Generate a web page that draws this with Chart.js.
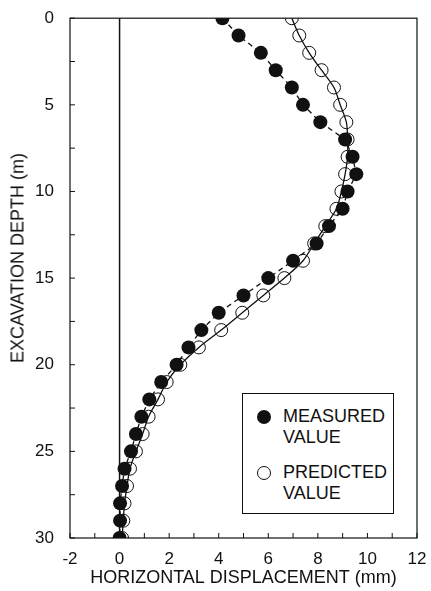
<!DOCTYPE html>
<html>
<head>
<meta charset="utf-8">
<script src="https://cdn.jsdelivr.net/npm/chart.js@4.4.0/dist/chart.umd.min.js"></script>
<style>
  html, body { margin: 0; padding: 0; background: #fff; }
  #wrap { position: relative; width: 431px; height: 591px; }
  #legend {
    position: absolute; left: 242px; top: 393px; width: 152px; height: 121px;
    box-sizing: border-box; border: 1px solid #111; background: #fff;
    font-family: "Liberation Sans", Arial, sans-serif; font-size: 18px; color: #111;
  }
  .dot { position: absolute; width: 14px; height: 14px; border-radius: 50%; box-sizing: border-box; }
  .lbl { position: absolute; left: 40px; line-height: 20.5px; }
  #ytitle {
    position: absolute; left: 18px; top: 258px; white-space: nowrap;
    transform: translate(-50%, -50%) rotate(-90deg);
    font-family: "Liberation Sans", Arial, sans-serif; font-size: 18px; color: #111;
  }
</style>
</head>
<body>
<div id="wrap">
  <canvas id="chart" width="431" height="591"></canvas>
  <div id="ytitle">EXCAVATION DEPTH (m)</div>
  <div id="legend">
    <span class="dot" style="left:14px;top:16px;background:#111;"></span>
    <div class="lbl" style="top:12px;">MEASURED<br>VALUE</div>
    <span class="dot" style="left:14px;top:72px;border:1px solid #111;"></span>
    <div class="lbl" style="top:68px;">PREDICTED<br>VALUE</div>
  </div>
</div>
<script>
// depth below ground (m)
const depths = [0, 1, 2, 3, 4, 5, 6, 7, 8, 9, 10, 11, 12, 13, 14, 15, 16, 17, 18, 19, 20,
  21, 22, 23, 24, 25, 26, 27, 28, 29, 30];
// horizontal displacement (mm)
const measured = [4.15, 4.8, 5.7, 6.3, 6.95, 7.4, 8.1, 9.1, 9.4, 9.55, 9.2, 9.0, 8.45, 7.95, 7.0,
  6.0, 5.0, 4.0, 3.3, 2.78, 2.3, 1.68, 1.2, 0.88, 0.66, 0.46, 0.2, 0.1, 0.02, 0.02, 0.0];
const predicted = [6.95, 7.25, 7.65, 8.15, 8.65, 8.9, 9.15, 9.2, 9.2, 9.1, 8.95, 8.75, 8.3, 7.85, 7.4,
  6.65, 5.8, 4.95, 4.1, 3.2, 2.45, 1.9, 1.55, 1.17, 0.93, 0.66, 0.42, 0.3, 0.2, 0.15, 0.1];
const zeroLine = [0, 30];

const fontFamily = '"Liberation Sans", Arial, sans-serif';
const ink = '#111';

// frame + inward tick marks
const framePlugin = {
  id: 'frame',
  afterDatasetsDraw(chart) {
    const ctx = chart.ctx;
    const a = chart.chartArea;
    ctx.save();
    ctx.strokeStyle = ink;
    ctx.lineWidth = 1.2;
    ctx.strokeRect(a.left, a.top, a.right - a.left, a.bottom - a.top);
    ctx.lineWidth = 1;
    chart.scales.x.ticks.forEach(t => {
      const px = chart.scales.x.getPixelForValue(t.value);
      ctx.beginPath();
      ctx.moveTo(px, a.bottom);
      ctx.lineTo(px, a.bottom - 5);
      ctx.stroke();
    });
    chart.scales.y.ticks.forEach(t => {
      const py = chart.scales.y.getPixelForValue(t.value);
      ctx.beginPath();
      ctx.moveTo(a.left, py);
      ctx.lineTo(a.left + 5, py);
      ctx.stroke();
    });
    ctx.restore();
  }
};

new Chart(document.getElementById('chart'), {
  type: 'scatter',
  data: {
    datasets: [
      {
        label: 'MEASURED VALUE',
        data: depths.map((d, i) => ({ x: measured[i], y: d })),
        showLine: true,
        borderColor: ink,
        borderWidth: 1.3,
        borderDash: [5, 4],
        pointRadius: 7,
        pointBackgroundColor: ink,
        pointBorderColor: ink,
        pointBorderWidth: 0,
        order: 0
      },
      {
        label: 'PREDICTED VALUE',
        data: depths.map((d, i) => ({ x: predicted[i], y: d })),
        showLine: true,
        tension: 0.3,
        borderColor: ink,
        borderWidth: 1.3,
        pointRadius: 6.5,
        pointBackgroundColor: 'rgba(0,0,0,0)',
        pointBorderColor: ink,
        pointBorderWidth: 1,
        order: 1
      },
      {
        label: 'zero',
        data: zeroLine.map(d => ({ x: 0, y: d })),
        showLine: true,
        borderColor: ink,
        borderWidth: 1.5,
        pointRadius: 0,
        order: 2
      }
    ]
  },
  options: {
    responsive: false,
    animation: false,
    devicePixelRatio: 1,
    layout: { padding: { top: 14, right: 14, left: 0, bottom: 0 } },
    plugins: { legend: { display: false }, tooltip: { enabled: false } },
    scales: {
      x: {
        type: 'linear',
        min: -2, max: 12,
        grid: { display: false },
        border: { display: false },
        ticks: {
          stepSize: 1,
          autoSkip: false,
          maxRotation: 0,
          padding: 3,
          color: ink,
          font: { family: fontFamily, size: 17 },
          callback: v => (v % 2 === 0 ? v : '')
        },
        title: {
          display: true,
          text: 'HORIZONTAL DISPLACEMENT (mm)',
          color: ink,
          padding: { top: 0, bottom: 2 },
          font: { family: fontFamily, size: 18 }
        },
        afterFit: s => { s.height = 53; }
      },
      y: {
        type: 'linear',
        reverse: true,
        min: 0, max: 30,
        grid: { display: false },
        border: { display: false },
        ticks: {
          stepSize: 2.5,
          autoSkip: false,
          padding: 8,
          color: ink,
          font: { family: fontFamily, size: 17 },
          callback: v => (v % 5 === 0 ? v : '')
        },
        title: { display: false },
        afterFit: s => { s.width = 70; }
      }
    }
  },
  plugins: [framePlugin]
});
</script>
</body>
</html>
